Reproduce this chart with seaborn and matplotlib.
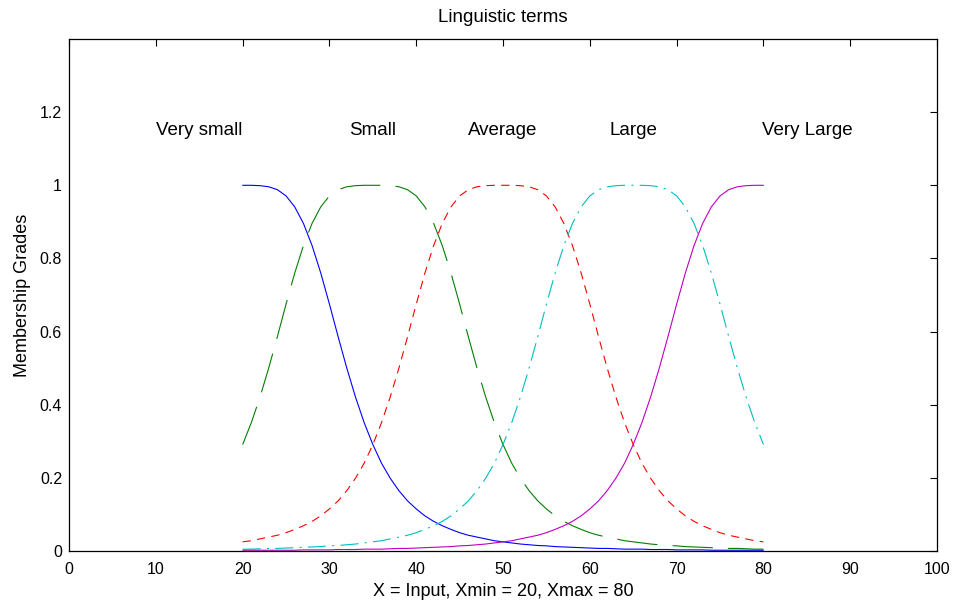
import numpy as np
import pandas as pd
import matplotlib
matplotlib.use('Agg')
import matplotlib.pyplot as plt
import seaborn as sns

# input values (x = 20 .. 80, step 1)
x_input = list(range(20, 81))

# membership grades
very_small = [1.000, 1.000, 0.999, 0.996, 0.988, 0.971, 0.941, 0.896, 0.835, 0.760,
              0.675, 0.586, 0.500, 0.421, 0.351, 0.291, 0.240, 0.199, 0.165, 0.137,
              0.115, 0.096, 0.081, 0.069, 0.059, 0.050, 0.043, 0.038, 0.033, 0.028,
              0.025, 0.022, 0.019, 0.017, 0.015, 0.014, 0.012, 0.011, 0.010, 0.009,
              0.008, 0.007, 0.007, 0.006, 0.005, 0.005, 0.005, 0.004, 0.004, 0.004,
              0.003, 0.003, 0.003, 0.003, 0.002, 0.002, 0.002, 0.002, 0.002, 0.002, 0.002]
small = [0.291, 0.351, 0.421, 0.500, 0.586, 0.675, 0.760, 0.835, 0.896, 0.941,
         0.971, 0.988, 0.996, 0.999, 1.000, 1.000, 1.000, 0.999, 0.996, 0.988,
         0.971, 0.941, 0.896, 0.835, 0.760, 0.675, 0.586, 0.500, 0.421, 0.351,
         0.291, 0.240, 0.199, 0.165, 0.137, 0.115, 0.096, 0.081, 0.069, 0.059,
         0.050, 0.043, 0.038, 0.033, 0.028, 0.025, 0.022, 0.019, 0.017, 0.015,
         0.014, 0.012, 0.011, 0.010, 0.009, 0.008, 0.007, 0.007, 0.006, 0.005, 0.005]
average = [0.025, 0.028, 0.033, 0.038, 0.043, 0.050, 0.059, 0.069, 0.081, 0.096,
           0.115, 0.137, 0.165, 0.199, 0.240, 0.291, 0.351, 0.421, 0.500, 0.586,
           0.675, 0.760, 0.835, 0.896, 0.941, 0.971, 0.988, 0.996, 0.999, 1.000,
           1.000, 1.000, 0.999, 0.996, 0.988, 0.971, 0.941, 0.896, 0.835, 0.760,
           0.675, 0.586, 0.500, 0.421, 0.351, 0.291, 0.240, 0.199, 0.165, 0.137,
           0.115, 0.096, 0.081, 0.069, 0.059, 0.050, 0.043, 0.038, 0.033, 0.028, 0.025]
large = [0.005, 0.005, 0.006, 0.007, 0.007, 0.008, 0.009, 0.010, 0.011, 0.012,
         0.014, 0.015, 0.017, 0.019, 0.022, 0.025, 0.028, 0.033, 0.038, 0.043,
         0.050, 0.059, 0.069, 0.081, 0.096, 0.115, 0.137, 0.165, 0.199, 0.240,
         0.291, 0.351, 0.421, 0.500, 0.586, 0.675, 0.760, 0.835, 0.896, 0.941,
         0.971, 0.988, 0.996, 0.999, 1.000, 1.000, 1.000, 0.999, 0.996, 0.988,
         0.971, 0.941, 0.896, 0.835, 0.760, 0.675, 0.586, 0.500, 0.421, 0.351, 0.291]
very_large = [0.002, 0.002, 0.002, 0.002, 0.002, 0.002, 0.002, 0.003, 0.003, 0.003,
              0.003, 0.004, 0.004, 0.004, 0.005, 0.005, 0.005, 0.006, 0.007, 0.007,
              0.008, 0.009, 0.010, 0.011, 0.012, 0.014, 0.015, 0.017, 0.019, 0.022,
              0.025, 0.028, 0.033, 0.038, 0.043, 0.050, 0.059, 0.069, 0.081, 0.096,
              0.115, 0.137, 0.165, 0.199, 0.240, 0.291, 0.351, 0.421, 0.500, 0.586,
              0.675, 0.760, 0.835, 0.896, 0.941, 0.971, 0.988, 0.996, 0.999, 1.000, 1.000]

term_names = ['Very small', 'Small', 'Average', 'Large', 'Very Large']
term_label_x = [15, 35, 50, 65, 85]
term_label_y = 1.15

sns.set_style('white')
plt.rcParams['font.family'] = ['Liberation Sans', 'DejaVu Sans']
plt.rcParams['lines.scale_dashes'] = False
for k in ['text.color', 'axes.labelcolor', 'xtick.color', 'ytick.color']:
    plt.rcParams[k] = 'black'

df = pd.DataFrame({'x': x_input, 'Very small': very_small, 'Small': small,
                   'Average': average, 'Large': large, 'Very Large': very_large})

# warna & gaya garis ala matlab
gaya = {
    'Very small': ('#0000ff', '-'),
    'Small': ('#008000', (0, (29, 11))),
    'Average': ('#ff0000', (0, (6, 4.5))),
    'Large': ('#00bfbf', (0, (13, 4.5, 1.5, 4.5))),
    'Very Large': ('#bf00bf', '-'),
}

fig = plt.figure(figsize=(9.55, 6.06), dpi=100)
ax = fig.add_axes([0.0723, 0.0908, 0.9089, 0.8448])

for nama in term_names:
    warna, ls = gaya[nama]
    sns.lineplot(data=df, x='x', y=nama, ax=ax, color=warna, linestyle=ls,
                 linewidth=0.8, legend=False)

for nama, tx in zip(term_names, term_label_x):
    ax.text(tx, term_label_y, nama, ha='center', va='center', fontsize=13.5)

ax.set_xlim(0, 100)
ax.set_ylim(0, 1.4)
ax.set_xticks(range(0, 101, 10))
ax.set_yticks([0, 0.2, 0.4, 0.6, 0.8, 1.0, 1.2])
ax.set_yticklabels(['0', '0.2', '0.4', '0.6', '0.8', '1', '1.2'])
ax.tick_params(direction='in', top=True, right=True, length=5, width=0.8,
               labelsize=11.5, pad=5)
ax.tick_params(axis='x', pad=8)
for sp in ax.spines.values():
    sp.set_color('black')
    sp.set_linewidth(0.9)

ax.set_title('Linguistic terms', fontsize=13.5, pad=12)
ax.set_xlabel('X = Input, Xmin = 20, Xmax = 80', fontsize=13, labelpad=4)
ax.set_ylabel('Membership Grades', fontsize=13, labelpad=6)

fig.savefig('out.png', dpi=100)
